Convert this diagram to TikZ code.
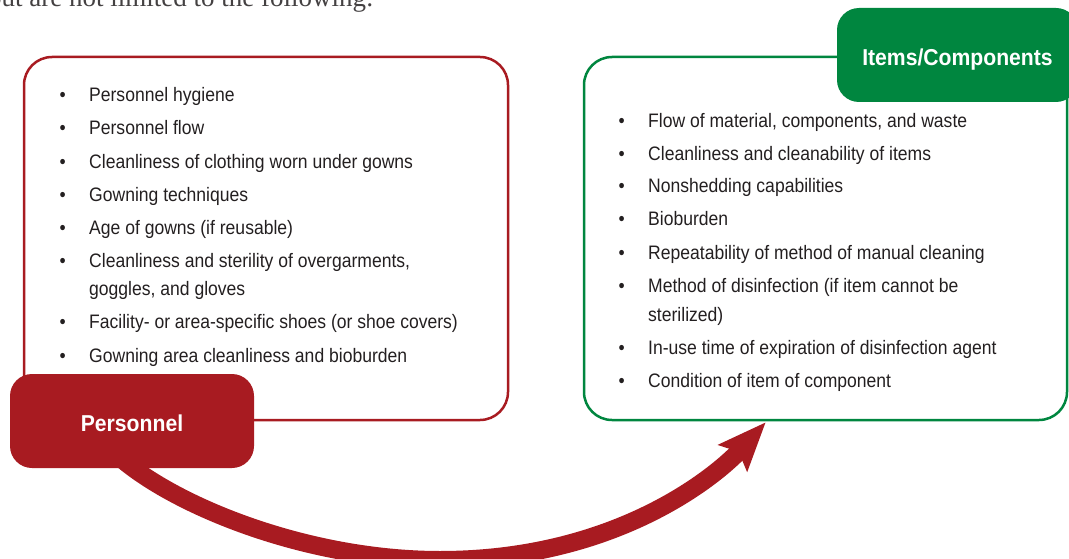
\documentclass[tikz,border=0pt]{standalone}
\usepackage{fontspec}
\setmainfont{Liberation Sans}[FakeStretch=0.9]
\newfontfamily\tabfont{Liberation Sans}[FakeStretch=0.92]
\newfontfamily\leadfont{Liberation Serif}
\usetikzlibrary{arrows.meta,calc,backgrounds}
\definecolor{crimson}{RGB}{168,27,33}
\definecolor{leafgreen}{RGB}{0,134,63}
\definecolor{ink}{RGB}{35,31,32}
\newcommand{\pItem}[1]{\makebox[29.5pt][l]{\textbullet}#1}

\begin{document}
\begin{tikzpicture}[x=1pt,y=-1pt,
  line/.style={anchor=base west, inner sep=0pt, text=ink, font=\fontsize{19.5}{23}\selectfont},
  panel/.style={draw, line width=2.5pt, rounded corners=28pt, inner sep=0pt},
  tab/.style={rounded corners=22pt, inner sep=0pt, text height=20.5pt, text depth=0pt, text=white, font=\tabfont\bfseries\fontsize{23}{27}\selectfont},
  flow/.style={draw=crimson, line width=18pt, -{Stealth[length=48pt, width=38pt, inset=8pt]}}]
\useasboundingbox (0,0) rectangle (1069,559);
\clip (0,0) rectangle (1069,559);
\node[anchor=base west, inner sep=0pt, text=ink!85, font=\leadfont\fontsize{27}{30}\selectfont] (lead) at (-12,7) {but are not limited to the following:};
\node[panel, draw=crimson, minimum width=484pt, minimum height=363pt] (leftpanel) at (266,238.5) {};
\node[panel, draw=leafgreen, minimum width=483pt, minimum height=363pt] (rightpanel) at (825.5,238.5) {};
\node[tab, fill=crimson, minimum width=244pt, minimum height=94pt] (personnel) at (132,421) {Personnel};
\node[tab, fill=leafgreen, minimum width=241pt, minimum height=94pt] (items) at (957.5,55) {Items/Components};
\node[line] (p1) at (59.5,102) {\pItem{Personnel hygiene}};
\node[line] (p2) at (59.5,135) {\pItem{Personnel flow}};
\node[line] (p3) at (59.5,168) {\pItem{Cleanliness of clothing worn under gowns}};
\node[line] (p4) at (59.5,201) {\pItem{Gowning techniques}};
\node[line] (p5) at (59.5,234.5) {\pItem{Age of gowns (if reusable)}};
\node[line] (p6) at (59.5,267.5) {\pItem{Cleanliness and sterility of overgarments,}};
\node[line] (p7) at (89,295) {goggles, and gloves};
\node[line] (p8) at (59.5,328.5) {\pItem{Facility- or area-specific shoes (or shoe covers)}};
\node[line] (p9) at (59.5,362) {\pItem{Gowning area cleanliness and bioburden}};
\node[line] (c1) at (618.5,127.5) {\pItem{Flow of material, components, and waste}};
\node[line] (c2) at (618.5,160.5) {\pItem{Cleanliness and cleanability of items}};
\node[line] (c3) at (618.5,193) {\pItem{Nonshedding capabilities}};
\node[line] (c4) at (618.5,225.5) {\pItem{Bioburden}};
\node[line] (c5) at (618.5,259) {\pItem{Repeatability of method of manual cleaning}};
\node[line] (c6) at (618.5,292) {\pItem{Method of disinfection (if item cannot be}};
\node[line] (c7) at (648,321) {sterilized)};
\node[line] (c8) at (618.5,354) {\pItem{In-use time of expiration of disinfection agent}};
\node[line] (c9) at (618.5,387) {\pItem{Condition of item of component}};
\coordinate (dip) at (440,560);
\begin{scope}[on background layer]
\draw[flow] ($(personnel.south)+(-22,-20)$) .. controls (160,500) and (300,560) .. (dip)
  .. controls (620,560) and (720,472) .. ($(rightpanel.south west)+(183,1)$);
\end{scope}
\end{tikzpicture}
\end{document}
